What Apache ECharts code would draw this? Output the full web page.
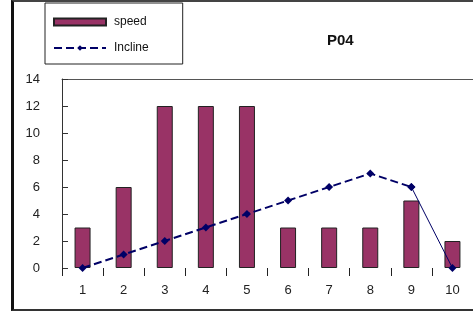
<!DOCTYPE html>
<html>
<head>
<meta charset="utf-8">
<script src="https://cdn.jsdelivr.net/npm/echarts@6/dist/echarts.min.js"></script>
<style>
  html, body { margin: 0; padding: 0; background: #fff; }
  #chart { position: absolute; left: 0; top: 0; width: 473px; height: 313px; }
  #frame {
    position: absolute; left: 11px; top: 0; width: 462px; height: 307px;
    border-left: 3px solid #111; border-top: 2px solid #444; border-bottom: 2px solid #333;
    pointer-events: none;
  }
</style>
</head>
<body>
<div id="chart"></div>
<div id="frame"></div>
<script>
const categories = ['1', '2', '3', '4', '5', '6', '7', '8', '9', '10'];
const speed = [3, 6, 12, 12, 12, 3, 3, 3, 5, 2];
const incline = [0, 1, 2, 3, 4, 5, 6, 7, 6, 0];
const yTicks = [0, 2, 4, 6, 8, 10, 12, 14];

// dashed up to point 9, then a solid drop to point 10
const inclineDashed = incline.map((v, i) => (i <= 8 ? v : null));
const inclineSolid = incline.map((v, i) => (i >= 8 ? v : null));

const font = '"Liberation Sans", Arial, sans-serif';
const chart = echarts.init(document.getElementById('chart'));

chart.setOption({
  animation: false,
  textStyle: { fontFamily: font },
  title: {
    text: 'P04',
    left: 322,
    top: 28,
    textStyle: { fontSize: 15, fontWeight: 'bold', color: '#111', fontFamily: font },
  },
  legend: {
    orient: 'vertical',
    left: 45,
    top: 3,
    data: [
      { name: 'speed', icon: 'rect' },
      { name: 'Incline' },
    ],
    itemWidth: 52,
    itemHeight: 7,
    itemGap: 14,
    padding: [13, 34, 10, 8],
    borderColor: '#222',
    borderWidth: 1,
    textStyle: { fontSize: 12, color: '#111', fontFamily: font, padding: [0, 0, 0, 3] },
  },
  grid: { left: 62, right: 0, top: 79, bottom: 45 },
  xAxis: [
    {
      type: 'category',
      data: categories,
      axisLine: { show: false },
      axisTick: { show: true, alignWithLabel: false, length: 8, lineStyle: { color: '#222' } },
      axisLabel: { margin: 16, fontSize: 13, color: '#222' },
    },
    {
      type: 'category',
      position: 'top',
      data: categories,
      axisLine: { show: true, lineStyle: { color: '#555', width: 1 } },
      axisTick: { show: false },
      axisLabel: { show: false },
    },
  ],
  yAxis: {
    type: 'value',
    min: yTicks[0],
    max: yTicks[yTicks.length - 1],
    interval: yTicks[1] - yTicks[0],
    axisLine: { show: true, lineStyle: { color: '#333' } },
    axisTick: { show: true, inside: true, length: 6, lineStyle: { color: '#333' } },
    splitLine: { show: false },
    axisLabel: { margin: 22, fontSize: 13, color: '#222' },
  },
  series: [
    {
      name: 'speed',
      type: 'bar',
      data: speed,
      barWidth: 16,
      itemStyle: { color: '#993366', borderColor: '#222', borderWidth: 1 },
    },
    {
      name: 'Incline',
      type: 'line',
      data: inclineDashed,
      symbol: 'diamond',
      symbolSize: 8,
      itemStyle: { color: '#000066' },
      lineStyle: { color: '#000066', width: 2, type: 'dashed' },
      z: 3,
    },
    {
      name: 'inclineEnd',
      type: 'line',
      data: inclineSolid,
      symbol: 'diamond',
      symbolSize: 8,
      itemStyle: { color: '#000066' },
      lineStyle: { color: '#000066', width: 1 },
      z: 3,
    },
  ],
});
</script>
</body>
</html>
